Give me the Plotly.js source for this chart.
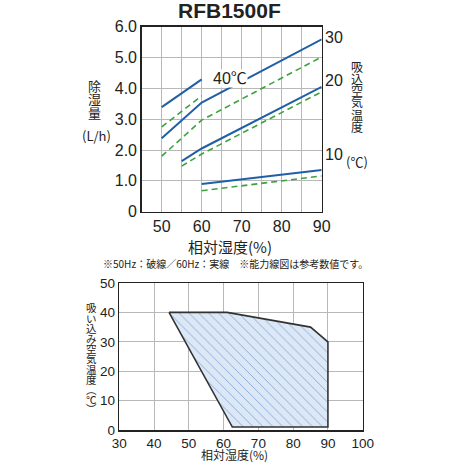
<!DOCTYPE html>
<html>
<head>
<meta charset="utf-8">
<script src="https://cdn.plot.ly/plotly-3.0.1.min.js"></script>
<style>html,body{margin:0;padding:0;background:#fff;}#chart{width:463px;height:464px;}</style>
</head>
<body>
<div id="chart"></div>
<script>
// ---- data: capacity chart (top) ----
const rh40 = [50, 60];
const sol40 = [3.39, 4.29];   // 60Hz solid
const dash40 = [2.75, 3.76];  // 50Hz dashed
const rh30 = [50, 60, 90];
const sol30 = [2.38, 3.54, 5.59];
const dash30 = [1.80, 2.97, 5.02];
const rh20 = [55, 60, 90];
const sol20 = [1.64, 2.05, 4.05];
const dash20 = [1.48, 1.87, 3.89];
const rh10 = [60, 90];
const sol10 = [0.90, 1.35];
const dash10 = [0.68, 1.16];

const topXTickVals = [45, 50, 55, 60, 65, 70, 75, 80, 85, 90];
const topXTickText = ['', '50', '', '60', '', '70', '', '80', '', '90'];
const topYTickVals = [0, 1, 2, 3, 4, 5, 6];
const topYTickText = ['0', '1.0', '2.0', '3.0', '4.0', '5.0', '6.0'];
const tempLabels = ['30', '20', '10'];

// ---- data: operating range (bottom) ----
const rangeRH = [44.3, 61, 85, 90, 90, 62.5, 44.3];
const rangeTemp = [40, 40, 35, 30, 1, 1, 40];
const botXTickVals = [30, 40, 50, 60, 70, 80, 90, 100];
const botYTickVals = [0, 10, 20, 30, 40, 50];

const title = 'RFB1500F';
const topXTitle = '相対湿度(%)';
const note = '※50Hz：破線／60Hz：実線　※能力線図は参考数値です。';
const leftTitleChars = ['除', '湿', '量', '(L/h)'];
const rightTitleChars = ['吸', '込', '空', '気', '温', '度', '(℃)'];
const botYTitleChars = ['吸', 'い', '込', 'み', '空', '気', '温', '度', '︵', '℃', '︶'];
const botXTitle = '相対湿度(%)';
const label40 = '40℃';

const BLUE = '#1f5fa6';
const GREEN = '#3da23d';
const FONT = '"Liberation Sans", Arial, "Noto Sans CJK JP", sans-serif';
const JFONT = '"Noto Sans CJK JP", "Liberation Sans", sans-serif';
const W = 463, H = 464;
const px = x => x / W;
const py = y => 1 - y / H;

function solid(x, y) {
  return {x: x, y: y, type: 'scatter', mode: 'lines', xaxis: 'x', yaxis: 'y',
    line: {color: BLUE, width: 2}, showlegend: false, hoverinfo: 'skip'};
}
function dashed(x, y) {
  return {x: x, y: y, type: 'scatter', mode: 'lines', xaxis: 'x', yaxis: 'y',
    line: {color: GREEN, width: 1.6, dash: '6px,4px'}, showlegend: false, hoverinfo: 'skip'};
}

const traces = [
  dashed(rh40, dash40), dashed(rh30, dash30), dashed(rh20, dash20), dashed(rh10, dash10),
  solid(rh40, sol40), solid(rh30, sol30), solid(rh20, sol20), solid(rh10, sol10),
  {x: rangeRH, y: rangeTemp, type: 'scatter', mode: 'lines', xaxis: 'x2', yaxis: 'y2',
   fill: 'toself', fillcolor: '#dce8f6',
   fillpattern: {shape: '\\', fgcolor: '#7fa3d3', bgcolor: '#dce8f6', size: 7, solidity: 0.12},
   line: {color: '#333', width: 1.6}, showlegend: false, hoverinfo: 'skip'}
];

const ann = [];
function addText(text, x, y, size, family, extra) {
  ann.push(Object.assign({xref: 'paper', yref: 'paper', x: px(x), y: py(y), text: text,
    showarrow: false, xanchor: 'center', yanchor: 'middle', borderpad: 0,
    font: {size: size, family: family || FONT, color: '#222'}}, extra || {}));
}
addText('<b>' + title + '</b>', 229.5, 11, 21, FONT);
const leftYs = [85, 98.5, 112, 135];
leftTitleChars.forEach((c, i) => addText(c, i === 3 ? 96 : 94, leftYs[i], 13, JFONT));
const rightYs = [66.7, 78.3, 90, 101.7, 114, 126.5, 161.5];
rightTitleChars.forEach((c, i) => addText(c, 356.7, rightYs[i], i === 6 ? 13 : 12, JFONT));
const tempYs = [38, 81, 154];
tempLabels.forEach((t, i) => addText(t, 334, tempYs[i], 16, FONT));
addText(topXTitle, 230, 246, 15, JFONT);
addText(note, 235, 263, 10, JFONT);
addText(botXTitle, 234, 454, 12, JFONT);
const botYs = [307.5, 318, 328, 338, 348, 358.5, 369, 379.5, 389.5, 399, 408.5];
botYTitleChars.forEach((c, i) => addText(c, 91.7, botYs[i], 10.5, JFONT));
// 40℃ label with white backing that interrupts the line behind it
addText(label40, 230, 79, 16, FONT, {bgcolor: '#fff'});

const axisCommon = {showline: true, mirror: true, linecolor: '#222', linewidth: 1.5,
  showgrid: true, gridcolor: '#b8b8b8', gridwidth: 1, zeroline: false, ticks: '',
  fixedrange: true};

const layout = {
  width: W, height: H, margin: {l: 0, r: 0, t: 0, b: 0},
  paper_bgcolor: '#fff', plot_bgcolor: '#fff', showlegend: false,
  font: {family: FONT, color: '#222'},
  xaxis: Object.assign({}, axisCommon, {domain: [px(141.7), px(321.7)], range: [45, 90],
    anchor: 'y', tickmode: 'array', tickvals: topXTickVals, ticktext: topXTickText,
    tickfont: {size: 16, family: FONT, color: '#222'}}),
  yaxis: Object.assign({}, axisCommon, {domain: [py(211.7), py(26.7)], range: [0, 6],
    anchor: 'x', tickmode: 'array', tickvals: topYTickVals, ticktext: topYTickText,
    tickfont: {size: 16, family: FONT, color: '#222'}}),
  xaxis2: Object.assign({}, axisCommon, {domain: [px(119.3), px(362.7)], range: [30, 100],
    anchor: 'y2', tickmode: 'array', tickvals: botXTickVals,
    tickfont: {size: 13.5, family: FONT, color: '#222'}}),
  yaxis2: Object.assign({}, axisCommon, {domain: [py(430), py(283)], range: [0, 50],
    anchor: 'x2', tickmode: 'array', tickvals: botYTickVals,
    tickfont: {size: 13.5, family: FONT, color: '#222'}}),
  annotations: ann
};

Plotly.newPlot('chart', traces, layout, {staticPlot: true, displayModeBar: false});
</script>
</body>
</html>
